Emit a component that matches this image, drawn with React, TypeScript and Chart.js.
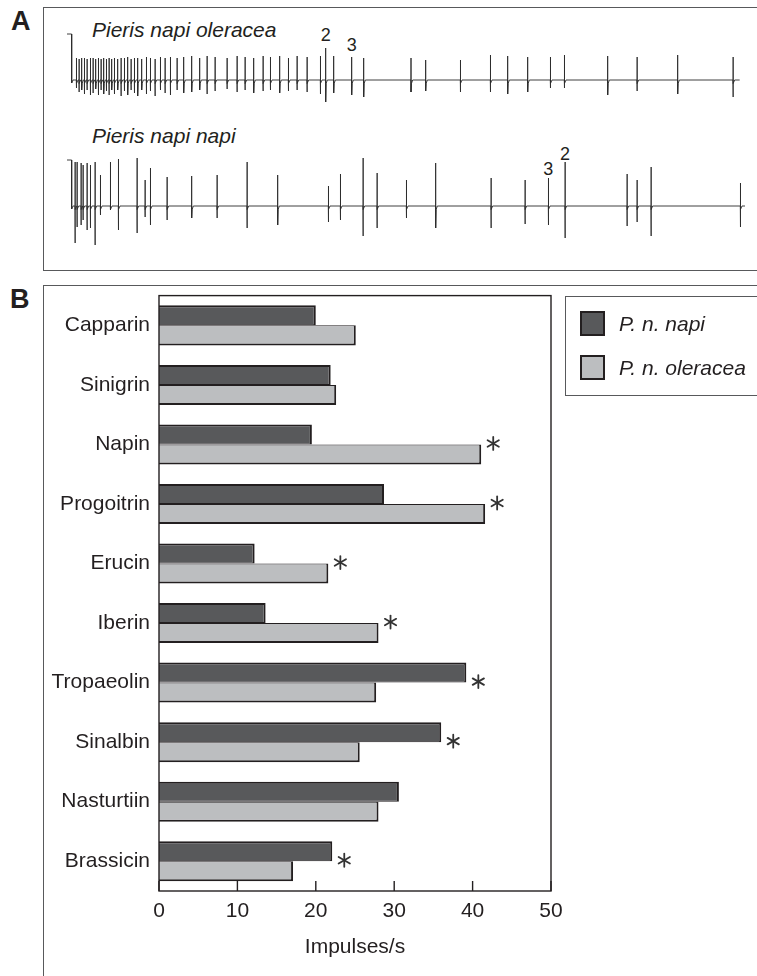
import React, { useEffect, useRef } from "react";
import { Chart, registerables } from "chart.js";

Chart.register(...registerables);

// ---------- Panel B data ----------
const compounds = [
  "Capparin",
  "Sinigrin",
  "Napin",
  "Progoitrin",
  "Erucin",
  "Iberin",
  "Tropaeolin",
  "Sinalbin",
  "Nasturtiin",
  "Brassicin",
];
const napiValues = [20.0, 21.9, 19.5, 28.7, 12.2, 13.6, 39.2, 36.0, 30.6, 22.1];
const oleraceaValues = [25.1, 22.6, 41.1, 41.6, 21.6, 28.0, 27.7, 25.6, 28.0, 17.1];
const significant = [false, false, true, true, true, true, true, true, false, true];
const xTickValues = [0, 10, 20, 30, 40, 50];
const seriesNames = ["P. n. napi", "P. n. oleracea"];
const xAxisTitle = "Impulses/s";

// ---------- Panel A data (time in ms, amplitude in µV) ----------
const traceNames = ["Pieris napi oleracea", "Pieris napi napi"];
const oleraceaSpikeTimes = [
  11, 15, 19, 23, 27, 32, 36, 40, 44, 48, 52, 56, 60, 64, 68, 73, 78, 83, 88, 93,
  98, 103, 109, 116, 122, 129, 137, 144, 152, 162, 172, 184, 196, 207, 219, 237, 252, 264, 277, 291,
  302, 316, 329, 342, 357, 377, 385, 397, 424, 442, 513, 535, 587, 632, 658, 688, 722, 743, 808, 852,
  913, 996,
];
const oleraceaSpikeUp = [
  220, 210, 220, 220, 210, 220, 220, 210, 220, 210, 220, 210, 220, 210, 220, 210, 220, 220, 230, 210,
  220, 220, 210, 230, 220, 210, 230, 220, 230, 220, 230, 240, 220, 240, 230, 220, 240, 230, 220, 240,
  230, 240, 220, 240, 230, 240, 320, 240, 230, 220, 220, 200, 200, 250, 240, 230, 230, 250, 240, 230,
  250, 230,
];
const oleraceaSpikeDown = [
  -80, -120, -100, -140, -100, -150, -130, -90, -150, -100, -140, -110, -150, -100, -140, -100, -160, -110, -150, -100,
  -130, -160, -100, -140, -110, -160, -100, -130, -150, -100, -130, -120, -100, -140, -110, -90, -120, -100, -130, -110,
  -100, -130, -110, -100, -120, -140, -220, -130, -150, -170, -120, -110, -120, -120, -140, -120, -80, -80, -150, -110,
  -140, -170,
];
const napiSpikeTimes = [
  9, 12, 18, 21, 27, 32, 39, 47, 62, 74, 102, 114, 122, 147, 184, 222, 267, 313, 389, 407,
  441, 462, 506, 550, 633, 684, 719, 744, 837, 852, 873, 1007,
];
const napiSpikeUp = [
  440, 440, 430, 410, 430, 410, 440, 310, 440, 470, 480, 260, 380, 290, 300, 310, 440, 310, 200, 320,
  480, 330, 260, 430, 280, 260, 280, 440, 320, 260, 390, 230,
];
const napiSpikeDown = [
  -370, -210, -190, -140, -240, -220, -390, -90, -40, -240, -270, -110, -190, -140, -120, -120, -220, -190, -160, -140,
  -300, -220, -120, -220, -220, -180, -190, -320, -200, -160, -300, -210,
];
const artifactWindow = [-3, 4]; // stimulus artifact (ms)
const artifactAmplitude = [460, 460];
const recordingEnd = [1006, 1014];
// numbered spikes (unit 2 and unit 3) marked in each trace
const markedSpikes = [
  [{ label: "2", time: 385 }, { label: "3", time: 424 }],
  [{ label: "3", time: 719 }, { label: "2", time: 744 }],
];

const FONT = "'Liberation Sans', Arial, Helvetica, sans-serif";
const TEXT = "#231f20";
const NAPI_COLOR = "#58595b";
const OLERACEA_COLOR = "#bcbec0";
const EDGE = "#231f20";

type Pt = { x: number; y: number };

function buildTrace(times: number[], ups: number[], downs: number[], idx: number): Pt[] {
  const pts: Pt[] = [];
  const [a0, a1] = artifactWindow;
  pts.push({ x: a0, y: artifactAmplitude[idx] });
  pts.push({ x: a1, y: artifactAmplitude[idx] });
  pts.push({ x: a1, y: -30 });
  pts.push({ x: a1 + 2, y: 0 });
  times.forEach((t, i) => {
    pts.push({ x: t, y: 0 });
    pts.push({ x: t, y: ups[i] });
    pts.push({ x: t, y: downs[i] });
    pts.push({ x: t + 0.7, y: -35 });
    pts.push({ x: t + 2.5, y: 0 });
  });
  pts.push({ x: recordingEnd[idx], y: 0 });
  return pts;
}

function TraceChart(props: {
  idx: number;
  times: number[];
  ups: number[];
  downs: number[];
  xRange: [number, number];
  yRange: [number, number];
  style: React.CSSProperties;
  width: number;
  height: number;
}) {
  const ref = useRef<HTMLCanvasElement | null>(null);
  useEffect(() => {
    if (!ref.current) return;
    const chart = new Chart(ref.current, {
      type: "scatter",
      data: {
        datasets: [
          {
            data: buildTrace(props.times, props.ups, props.downs, props.idx),
            showLine: true,
            borderColor: "#2b2b2b",
            borderWidth: 0.9,
            pointRadius: 0,
            tension: 0,
          } as any,
        ],
      },
      options: {
        responsive: false,
        animation: false,
        events: [],
        layout: { padding: 0 },
        plugins: { legend: { display: false }, tooltip: { enabled: false } },
        scales: {
          x: { type: "linear", display: false, min: props.xRange[0], max: props.xRange[1] },
          y: { type: "linear", display: false, min: props.yRange[0], max: props.yRange[1] },
        },
      },
    });
    return () => chart.destroy();
  }, []);
  return <canvas ref={ref} width={props.width} height={props.height} style={props.style} />;
}

const barFramePlugin = {
  id: "barFrame",
  afterDatasetsDraw(chart: any) {
    const { ctx, chartArea, scales } = chart;
    const xs = scales.x;
    const ys = scales.y;
    ctx.save();
    ctx.strokeStyle = EDGE;
    ctx.lineWidth = 1.4;
    ctx.strokeRect(chartArea.left, chartArea.top, chartArea.right - chartArea.left, chartArea.bottom - chartArea.top);
    // inward tick marks
    xTickValues.forEach((v) => {
      const px = xs.getPixelForValue(v);
      ctx.beginPath();
      ctx.moveTo(px, chartArea.bottom);
      ctx.lineTo(px, chartArea.bottom - 10);
      ctx.stroke();
    });
    // significance asterisks
    ctx.strokeStyle = "#333";
    ctx.lineWidth = 1.8;
    ctx.lineCap = "round";
    significant.forEach((s, i) => {
      if (!s) return;
      const end = Math.max(xs.getPixelForValue(napiValues[i]), xs.getPixelForValue(oleraceaValues[i]));
      const cx = end + 12;
      const cy = ys.getPixelForValue(i) - 1;
      const r = 6.5;
      [90, 30, 150].forEach((deg) => {
        const a = (deg * Math.PI) / 180;
        ctx.beginPath();
        ctx.moveTo(cx - r * Math.cos(a), cy - r * Math.sin(a));
        ctx.lineTo(cx + r * Math.cos(a), cy + r * Math.sin(a));
        ctx.stroke();
      });
    });
    ctx.restore();
  },
};

function BarChart() {
  const ref = useRef<HTMLCanvasElement | null>(null);
  useEffect(() => {
    if (!ref.current) return;
    const font = { family: FONT, size: 21 };
    const chart = new Chart(ref.current, {
      type: "bar",
      data: {
        labels: compounds,
        datasets: [
          {
            label: seriesNames[0],
            data: napiValues,
            backgroundColor: NAPI_COLOR,
            borderColor: EDGE,
            borderWidth: { top: 2, right: 2, bottom: 1, left: 0 },
            borderSkipped: false,
            categoryPercentage: 0.672,
            barPercentage: 1,
          } as any,
          {
            label: seriesNames[1],
            data: oleraceaValues,
            backgroundColor: OLERACEA_COLOR,
            borderColor: EDGE,
            borderWidth: { top: 1, right: 2, bottom: 2, left: 0 },
            borderSkipped: false,
            categoryPercentage: 0.672,
            barPercentage: 1,
          } as any,
        ],
      },
      options: {
        indexAxis: "y",
        responsive: false,
        animation: false,
        events: [],
        layout: { padding: { top: 0, right: 20, bottom: 0, left: 0 } },
        plugins: { legend: { display: false }, tooltip: { enabled: false } },
        scales: {
          x: {
            type: "linear",
            position: "bottom",
            min: 0,
            max: 50,
            afterBuildTicks: (scale: any) => {
              scale.ticks = xTickValues.map((v) => ({ value: v }));
            },
            grid: { display: false, drawTicks: false },
            border: { display: false },
            ticks: { padding: 8, font, color: TEXT, maxRotation: 0, autoSkip: false },
            title: {
              display: true,
              text: xAxisTitle,
              font,
              color: TEXT,
              padding: { top: 0, bottom: 16 },
            },
            afterFit: (scale: any) => {
              scale.height = 85;
            },
          } as any,
          y: {
            grid: { display: false, drawTicks: false },
            border: { display: false },
            ticks: { padding: 9, font, color: TEXT, autoSkip: false },
            afterFit: (scale: any) => {
              scale.width = 113;
            },
          } as any,
        },
      },
      plugins: [barFramePlugin],
    });
    return () => chart.destroy();
  }, []);
  return (
    <canvas
      ref={ref}
      width={525}
      height={702}
      style={{ position: "absolute", left: 46, top: 274, width: 525, height: 702 }}
    />
  );
}

// trace canvases geometry (ms / µV ranges of each canvas)
const traceX: [number, number] = [-13.5, 1021.5];
const trace1Y: [number, number] = [-320, 520];
const trace2Y: [number, number] = [-460, 560];

export default function App() {
  const abs = (o: React.CSSProperties): React.CSSProperties => ({ position: "absolute", ...o });
  const txt = (size: number, extra: React.CSSProperties = {}): React.CSSProperties => ({
    position: "absolute",
    fontFamily: FONT,
    fontSize: size,
    lineHeight: 1,
    color: TEXT,
    whiteSpace: "nowrap",
    ...extra,
  });
  // x-position helper for marked spike numbers (time -> px), same mapping as trace canvases
  const tToPx = (t: number) => 60 + ((t - traceX[0]) / (traceX[1] - traceX[0])) * 690;
  const markTops = [
    [25.6, 36],
    [159.6, 144.6],
  ];
  return (
    <div
      style={{
        position: "absolute",
        left: 0,
        top: 0,
        width: 757,
        height: 976,
        overflow: "hidden",
        background: "#fff",
        fontFamily: FONT,
      }}
    >
      {/* Panel A */}
      <div style={txt(27, { left: 11, top: 8, fontWeight: "bold" })}>A</div>
      <div
        style={abs({
          left: 43,
          top: 7,
          width: 800,
          height: 264,
          border: "1.5px solid #58595b",
          boxSizing: "border-box",
        })}
      />
      <div style={txt(21, { left: 92, top: 19, fontStyle: "italic" })}>{traceNames[0]}</div>
      <div style={txt(21, { left: 92, top: 125, fontStyle: "italic" })}>{traceNames[1]}</div>
      {markedSpikes.map((row, r) =>
        row.map((m, k) => (
          <div key={`${r}-${k}`} style={txt(18, { left: tToPx(m.time) - 5, top: markTops[r][k] })}>
            {m.label}
          </div>
        ))
      )}
      <TraceChart
        idx={0}
        times={oleraceaSpikeTimes}
        ups={oleraceaSpikeUp}
        downs={oleraceaSpikeDown}
        xRange={traceX}
        yRange={trace1Y}
        width={690}
        height={84}
        style={{ position: "absolute", left: 60, top: 28, width: 690, height: 84 }}
      />
      <TraceChart
        idx={1}
        times={napiSpikeTimes}
        ups={napiSpikeUp}
        downs={napiSpikeDown}
        xRange={traceX}
        yRange={trace2Y}
        width={690}
        height={102}
        style={{ position: "absolute", left: 60, top: 150, width: 690, height: 102 }}
      />

      {/* Panel B */}
      <div style={txt(27, { left: 10, top: 286, fontWeight: "bold" })}>B</div>
      <div
        style={abs({
          left: 43,
          top: 285,
          width: 800,
          height: 800,
          border: "1.5px solid #58595b",
          boxSizing: "border-box",
        })}
      />
      <BarChart />
      <div
        style={abs({
          left: 565,
          top: 296,
          width: 300,
          height: 100,
          border: "1.5px solid #58595b",
          boxSizing: "border-box",
        })}
      />
      {[NAPI_COLOR, OLERACEA_COLOR].map((c, i) => (
        <React.Fragment key={i}>
          <div
            style={abs({
              left: 580,
              top: 311 + i * 44,
              width: 25,
              height: 25,
              background: c,
              border: `2px solid ${EDGE}`,
              boxSizing: "border-box",
            })}
          />
          <div style={txt(21, { left: 619, top: 313 + i * 44, fontStyle: "italic" })}>{seriesNames[i]}</div>
        </React.Fragment>
      ))}
    </div>
  );
}
